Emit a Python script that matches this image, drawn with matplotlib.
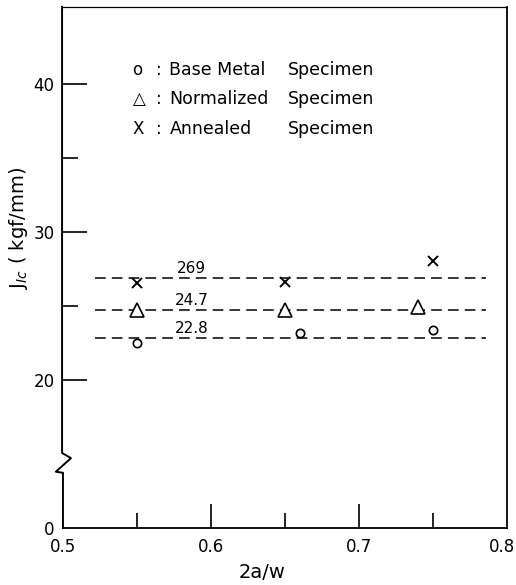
import numpy as np
import matplotlib.pyplot as plt
from matplotlib.ticker import FixedLocator
from matplotlib.transforms import ScaledTranslation

# crack length ratio 2a/w and J_Ic values (kgf/mm)
base_x = [0.55, 0.66, 0.75]
base_y = [22.5, 23.2, 23.4]
norm_x = [0.55, 0.65, 0.74]
norm_y = [24.7, 24.7, 24.9]
anneal_x = [0.55, 0.65, 0.75]
anneal_y = [26.55, 26.6, 28.0]

# mean values drawn as dashed lines
mean_vals = [26.9, 24.7, 22.8]
mean_labels = ['269', '24.7', '22.8']

x_ticks = [0.5, 0.6, 0.7, 0.8]
x_tick_labels = ['0.5', '0.6', '0.7', '0.8']
y_ticks = [10, 20, 30, 40]
y_tick_labels = ['0', '20', '30', '40']

plt.rcParams['font.family'] = 'DejaVu Sans'

fig = plt.figure(figsize=(5.16, 5.85), dpi=100)
ax = fig.add_axes([0.122, 0.0974, 0.860, 0.891])

ax.set_xlim(0.5, 0.8)
ax.set_ylim(10, 45.2)

# dashed mean lines with value labels
for v, lab in zip(mean_vals, mean_labels):
    ax.plot([0.522, 0.786], [v, v], color='black', lw=1.1, ls=(0, (7, 4)))
    ax.text(0.587, v + 0.15, lab, ha='center', va='bottom', fontsize=11)

ax.plot(base_x, base_y, 'o', ms=6, mfc='white', mec='black', mew=1.2, ls='none')
ax.plot(norm_x, norm_y, '^', ms=9.5, mfc='white', mec='black', mew=1.2, ls='none')
ax.plot(anneal_x, anneal_y, 'x', ms=7, color='black', mew=1.4, ls='none')

# legend written as text rows
legend_rows = [('o', 'Base Metal', 'Specimen'),
               ('\u25b3', 'Normalized', 'Specimen'),
               ('X', 'Annealed', 'Specimen')]
for i, (sym, name, spec) in enumerate(legend_rows):
    yy = 40.95 - i * 2.0
    ax.text(0.547, yy, sym, ha='left', va='center', fontsize=12)
    ax.text(0.563, yy, ':', ha='left', va='center', fontsize=12)
    ax.text(0.572, yy, name, ha='left', va='center', fontsize=12.5)
    ax.text(0.652, yy, spec, ha='left', va='center', fontsize=12.5)

# ticks pointing inward
ax.set_xticks(x_ticks)
ax.set_xticklabels(x_tick_labels, fontsize=12)
ax.xaxis.set_minor_locator(FixedLocator([0.55, 0.65, 0.75]))
ax.set_yticks(y_ticks)
ax.set_yticklabels(y_tick_labels, fontsize=12)
ax.yaxis.set_minor_locator(FixedLocator([25, 35]))
ax.tick_params(which='major', direction='in', length=17, width=1.2)
ax.tick_params(which='minor', direction='in', length=11, width=1.2)
ax.tick_params(axis='x', which='major', pad=7)
ax.tick_params(axis='y', which='major', pad=6)
ax.yaxis.get_major_ticks()[0].tick1line.set_visible(False)
ax.xaxis.get_major_ticks()[0].tick1line.set_visible(False)
ax.xaxis.get_major_ticks()[-1].tick1line.set_visible(False)
last = ax.get_xticklabels()[-1]
last.set_transform(last.get_transform() + ScaledTranslation(-5 / 100, 0, fig.dpi_scale_trans))

for s in ['right', 'bottom']:
    ax.spines[s].set_linewidth(1.3)
ax.spines['top'].set_linewidth(0.9)
ax.spines['left'].set_visible(False)

# left axis with break mark
bx = [0.0, 0.0, -0.016, 0.018, -0.002, -0.002]
by = [0.0, 0.106, 0.108, 0.134, 0.144, 1.0]
ax.plot(bx, by, color='black', lw=1.4, transform=ax.transAxes, clip_on=False)

ax.set_xlabel('2a/w', fontsize=14)
ax.xaxis.set_label_coords(0.448, -0.068)
ax.set_ylabel(r'J$_{Ic}$ ( kgf/mm)', fontsize=14)
ax.yaxis.set_label_coords(-0.075, 0.576)

fig.savefig('out.png', dpi=100)
